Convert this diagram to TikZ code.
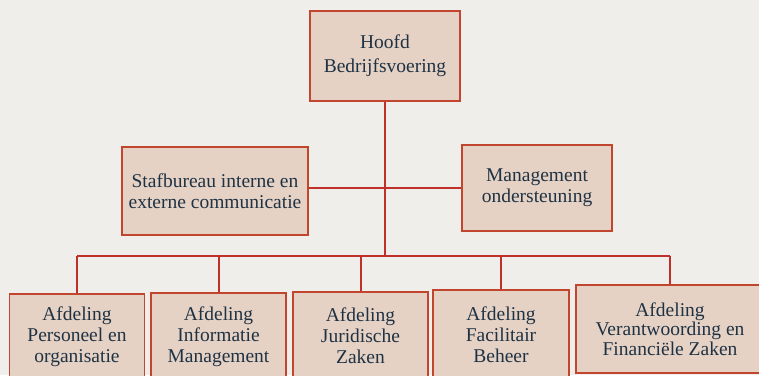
\documentclass[tikz,border=0pt]{standalone}
\usepackage{fontspec}
\setmainfont{Liberation Serif}
\definecolor{bg}{HTML}{EFEEEA}
\definecolor{boxfill}{HTML}{E5D2C4}
\definecolor{boxline}{HTML}{C2452E}
\definecolor{conn}{HTML}{C0302A}
\definecolor{txt}{HTML}{1F3244}
\begin{document}
\begin{tikzpicture}[x=1pt,y=-1pt,
  orgbox/.style={draw=boxline, line width=1.5pt, fill=boxfill, text=txt,
    align=center, inner sep=0pt, font=\fontsize{19.5}{21}\selectfont},
  conline/.style={draw=conn, line width=2pt}]
\clip (0,0) rectangle (759,375);
\fill[bg] (0,0) rectangle (759,375);
% top
\node[orgbox, minimum width=150pt, minimum height=90pt, font=\fontsize{19.5}{24}\selectfont] (top) at (385,56) {Hoofd\\Bedrijfsvoering};
% middle
\node[orgbox, minimum width=186pt, minimum height=88pt] (mL) at (215,191) {Stafbureau interne en\\externe communicatie};
\node[orgbox, minimum width=150pt, minimum height=86pt] (mR) at (537,188) {Management\\ondersteuning};
% bottom
\node[orgbox, minimum width=135pt, minimum height=86pt] (b1) at (77,337) {Afdeling\\Personeel en\\organisatie};
\node[orgbox, minimum width=135pt, minimum height=87pt] (b2) at (218.5,336.5) {Afdeling\\Informatie\\Management};
\node[orgbox, minimum width=135pt, minimum height=88pt] (b3) at (360.5,336) {Afdeling\\Juridische\\Zaken};
\node[orgbox, minimum width=136pt, minimum height=90pt] (b4) at (501,335) {Afdeling\\Facilitair\\Beheer};
\node[orgbox, minimum width=188pt, minimum height=88pt, font=\fontsize{19.5}{19.5}\selectfont] (b5) at (670,329) {Afdeling\\Verantwoording en\\Financiële Zaken};
% connectors
\coordinate (bus) at (0,256);
\draw[conline] (top.south) -- (top.south |- bus);
\draw[conline] (mL.east |- mR.west) -- (mR.west);
\draw[conline] (b1.north |- bus) -- (b5.north |- bus);
\foreach \b in {b1,b2,b3,b4,b5} {
  \draw[conline] (\b.north) -- (\b.north |- bus);
}
\end{tikzpicture}
\end{document}
